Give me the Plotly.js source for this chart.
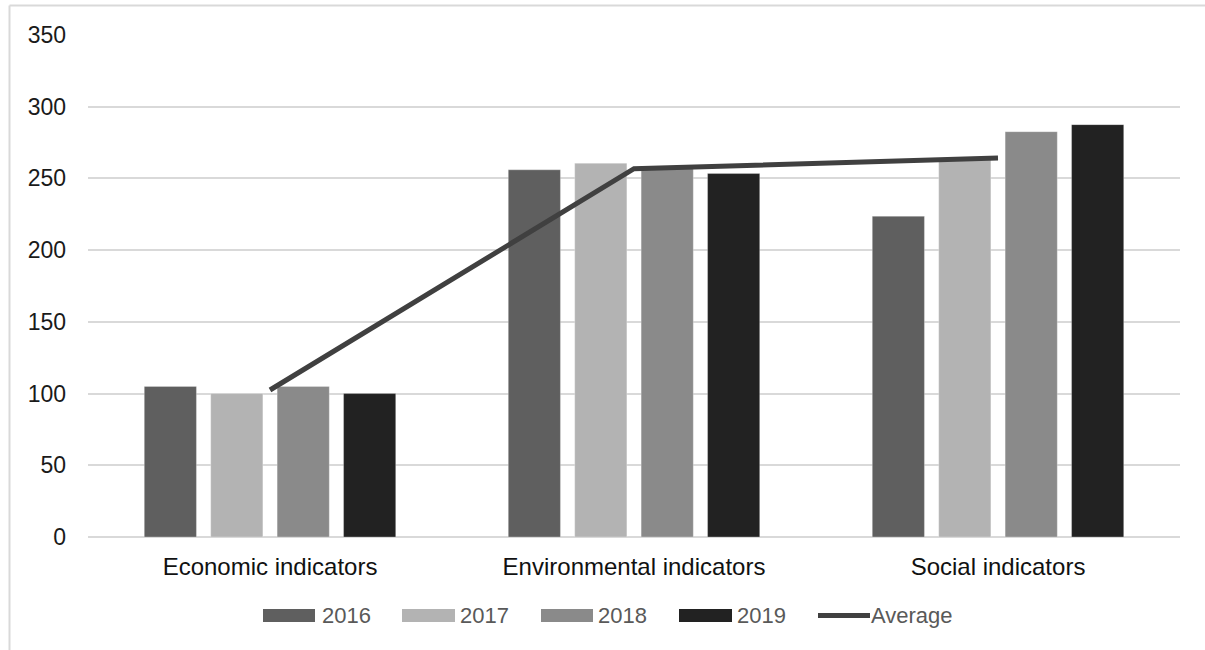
<!DOCTYPE html>
<html>
<head>
<meta charset="utf-8">
<script src="https://cdn.plot.ly/plotly-3.0.1.min.js"></script>
<style>
  html, body { margin: 0; padding: 0; background: #fff; overflow: hidden; }
  #chart { width: 1205px; height: 650px; }
</style>
</head>
<body>
<div id="chart"></div>
<script>
// ---- data ----
const categories = ["Economic indicators", "Environmental indicators", "Social indicators"];
const years = ["2016", "2017", "2018", "2019"];
const values2016 = [105, 256, 223.6];
const values2017 = [100, 260.6, 263];
const values2018 = [105, 257, 282.6];
const values2019 = [100, 253.4, 287.5];
const averageValues = [102.5, 256.8, 264.2];
const averageName = "Average";
const yTicks = [0, 50, 100, 150, 200, 250, 300, 350];

// ---- styles ----
const barColors = ["#5f5f5f", "#b3b3b3", "#8a8a8a", "#222222"];
const lineColor = "#404040";
const font = "Liberation Sans, Arial, sans-serif";

const seriesValues = [values2016, values2017, values2018, values2019];
const traces = years.map((y, i) => ({
  type: "bar",
  name: y,
  x: categories,
  y: seriesValues[i],
  marker: { color: barColors[i], line: { color: "rgba(255,255,255,0.35)", width: 0.8 } },
  showlegend: false,
  hoverinfo: "x+y+name"
}));
traces.push({
  type: "scatter",
  mode: "lines",
  name: averageName,
  x: categories,
  y: averageValues,
  line: { color: lineColor, width: 5 },
  showlegend: false
});

// custom legend and frame (pixel positions converted to paper coordinates)
const W = 1205, H = 650;
const plotL = 88, plotR = 1180, plotT = 35, plotB = 537;
const px = p => (p - plotL) / (plotR - plotL);
const py = p => (plotB - p) / (plotB - plotT);
const legendItems = [
  { s0: 263, s1: 315, t: 320 },
  { s0: 402, s1: 455, t: 458 },
  { s0: 541, s1: 593, t: 596 },
  { s0: 679, s1: 732, t: 735 }
];
const legendFont = { family: font, size: 22, color: "#595959" };
const shapes = [
  { type: "line", xref: "paper", yref: "paper", x0: px(9.5), x1: px(W + 5), y0: py(5.5), y1: py(5.5),
    line: { color: "#d9d9d9", width: 2 } },
  { type: "line", xref: "paper", yref: "paper", x0: px(9.5), x1: px(9.5), y0: py(5.5), y1: py(H + 5),
    line: { color: "#d9d9d9", width: 2 } }
];
const annotations = [];
legendItems.forEach((it, i) => {
  shapes.push({ type: "rect", xref: "paper", yref: "paper",
    x0: px(it.s0), x1: px(it.s1), y0: py(622), y1: py(609),
    fillcolor: barColors[i], line: { width: 0 } });
  annotations.push({ xref: "paper", yref: "paper", x: px(it.t), y: py(615.5),
    xanchor: "left", yanchor: "middle", showarrow: false, text: years[i],
    font: legendFont });
});
shapes.push({ type: "line", xref: "paper", yref: "paper",
  x0: px(818), x1: px(870), y0: py(615.5), y1: py(615.5),
  line: { color: lineColor, width: 5 } });
annotations.push({ xref: "paper", yref: "paper", x: px(869), y: py(615.5),
  xanchor: "left", yanchor: "middle", showarrow: false, text: averageName,
  font: legendFont });

const layout = {
  width: W, height: H,
  margin: { l: plotL, r: W - plotR, t: plotT, b: H - plotB },
  paper_bgcolor: "#ffffff",
  plot_bgcolor: "#ffffff",
  barmode: "group",
  bargap: 0.27,
  bargroupgap: 0.215,
  showlegend: false,
  font: { family: font, color: "#1a1a1a" },
  xaxis: {
    type: "category",
    showgrid: false,
    showline: false,
    zeroline: false,
    ticks: "",
    ticklabelstandoff: 13,
    tickfont: { family: font, size: 24, color: "#111111" }
  },
  yaxis: {
    range: [0, 350],
    tickvals: yTicks,
    ticktext: yTicks.map(String),
    showgrid: true,
    gridcolor: "#d9d9d9",
    gridwidth: 2,
    zeroline: true,
    zerolinecolor: "#d9d9d9",
    zerolinewidth: 2,
    showline: false,
    ticks: "",
    ticklabelstandoff: 21,
    tickfont: { family: font, size: 23, color: "#1a1a1a" }
  },
  shapes: shapes,
  annotations: annotations
};

Plotly.newPlot("chart", traces, layout, { displayModeBar: false, staticPlot: true });
</script>
</body>
</html>
